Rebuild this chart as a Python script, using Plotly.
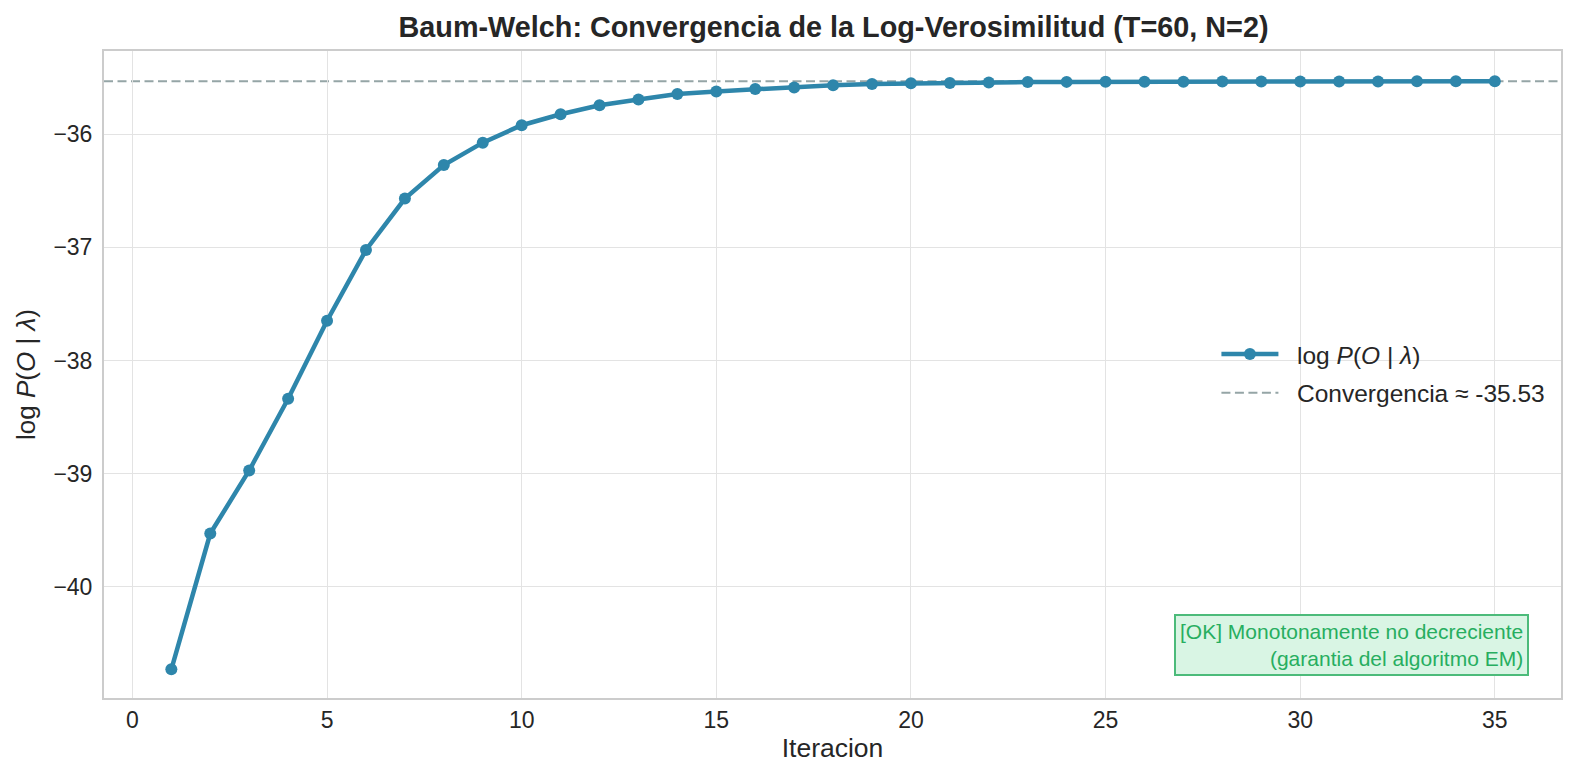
import plotly.graph_objects as go

# log-likelihood per Baum-Welch iteration
iteraciones = list(range(1, 36))
log_verosimilitud = [
    -40.729, -39.529, -38.972, -38.338, -37.648, -37.023, -36.568, -36.272,
    -36.074, -35.920, -35.823, -35.743, -35.692, -35.645, -35.621, -35.600,
    -35.586, -35.566, -35.556, -35.550, -35.547, -35.542, -35.539, -35.537,
    -35.536, -35.535, -35.535, -35.534, -35.534, -35.533, -35.533, -35.533,
    -35.532, -35.532, -35.532,
]
convergencia = -35.532

x_ticks = [0, 5, 10, 15, 20, 25, 30, 35]
y_ticks = [-36, -37, -38, -39, -40]

font = "Liberation Sans, Arial, sans-serif"
azul = "#2e86ab"
gris = "#95a5a6"
verde = "#27ae60"
texto = "#262626"

# page body keeps an 8px margin, so the figure is 16px smaller than the window
W, H = 1563, 763
gap = "\u00a0\u00a0"  # a bit more room between legend symbol and text

fig = go.Figure()
fig.add_trace(go.Scatter(
    x=iteraciones,
    y=log_verosimilitud,
    mode="lines+markers",
    name=gap + "log <i>P</i>(<i>O</i> | <i>λ</i>)",
    legendgroup="a",
    line=dict(color=azul, width=4.5),
    marker=dict(color=azul, size=12),
))

fig.add_shape(
    type="line", xref="x domain", x0=0, x1=1, yref="y", y0=convergencia, y1=convergencia,
    line=dict(color=gris, width=2, dash="9px,4.5px"),
    showlegend=True, name=gap + f"Convergencia ≈ {convergencia:.2f}",
    legendgroup="b", layer="below",
)

fig.add_annotation(
    text="[OK] Monotonamente no decreciente<br>(garantia del algoritmo EM)",
    xref="paper", yref="paper", x=0.978, y=0.034,
    xanchor="right", yanchor="bottom", align="right", showarrow=False,
    font=dict(family=font, size=21, color=verde),
    bgcolor="#d9f5e4", bordercolor="#4cbb7a", borderwidth=2, borderpad=4,
)

fig.update_layout(
    width=W, height=H,
    margin=dict(l=96, r=8, t=43, b=73),
    paper_bgcolor="white", plot_bgcolor="white",
    font=dict(family=font, color=texto),
    title=dict(
        text="<b>Baum-Welch: Convergencia de la Log-Verosimilitud (T=60, N=2)</b>",
        x=(96 + 1555) / 2 / W, xanchor="center",
        y=1 - 19 / H, yanchor="middle", yref="container",
        font=dict(family=font, size=28.8, color=texto),
    ),
    legend=dict(
        x=0.7635, y=0.5015, xanchor="left", yanchor="middle",
        itemwidth=57, tracegroupgap=4, traceorder="grouped",
        bgcolor="rgba(255,255,255,0)",
        font=dict(family=font, size=24.5, color=texto),
    ),
    showlegend=True,
)

fig.update_xaxes(
    range=[-0.73, 36.70], tickvals=x_ticks,
    showgrid=True, gridcolor="#e3e3e3", gridwidth=1.3,
    zeroline=False, showline=True, linecolor="#cccccc", linewidth=2, mirror=True,
    ticks="", tickfont=dict(family=font, size=23, color=texto),
    title=dict(text="Iteracion", font=dict(family=font, size=26.5, color=texto), standoff=7),
)
fig.update_yaxes(
    range=[-40.983, -35.264], tickvals=y_ticks,
    showgrid=True, gridcolor="#e3e3e3", gridwidth=1.3,
    zeroline=False, showline=True, linecolor="#cccccc", linewidth=2, mirror=True,
    ticks="", ticklabelstandoff=5, tickfont=dict(family=font, size=23, color=texto),
    title=dict(text="log <i>P</i>(<i>O</i> | <i>λ</i>)", font=dict(family=font, size=26, color=texto), standoff=10),
)

fig.write_html("out.html")
